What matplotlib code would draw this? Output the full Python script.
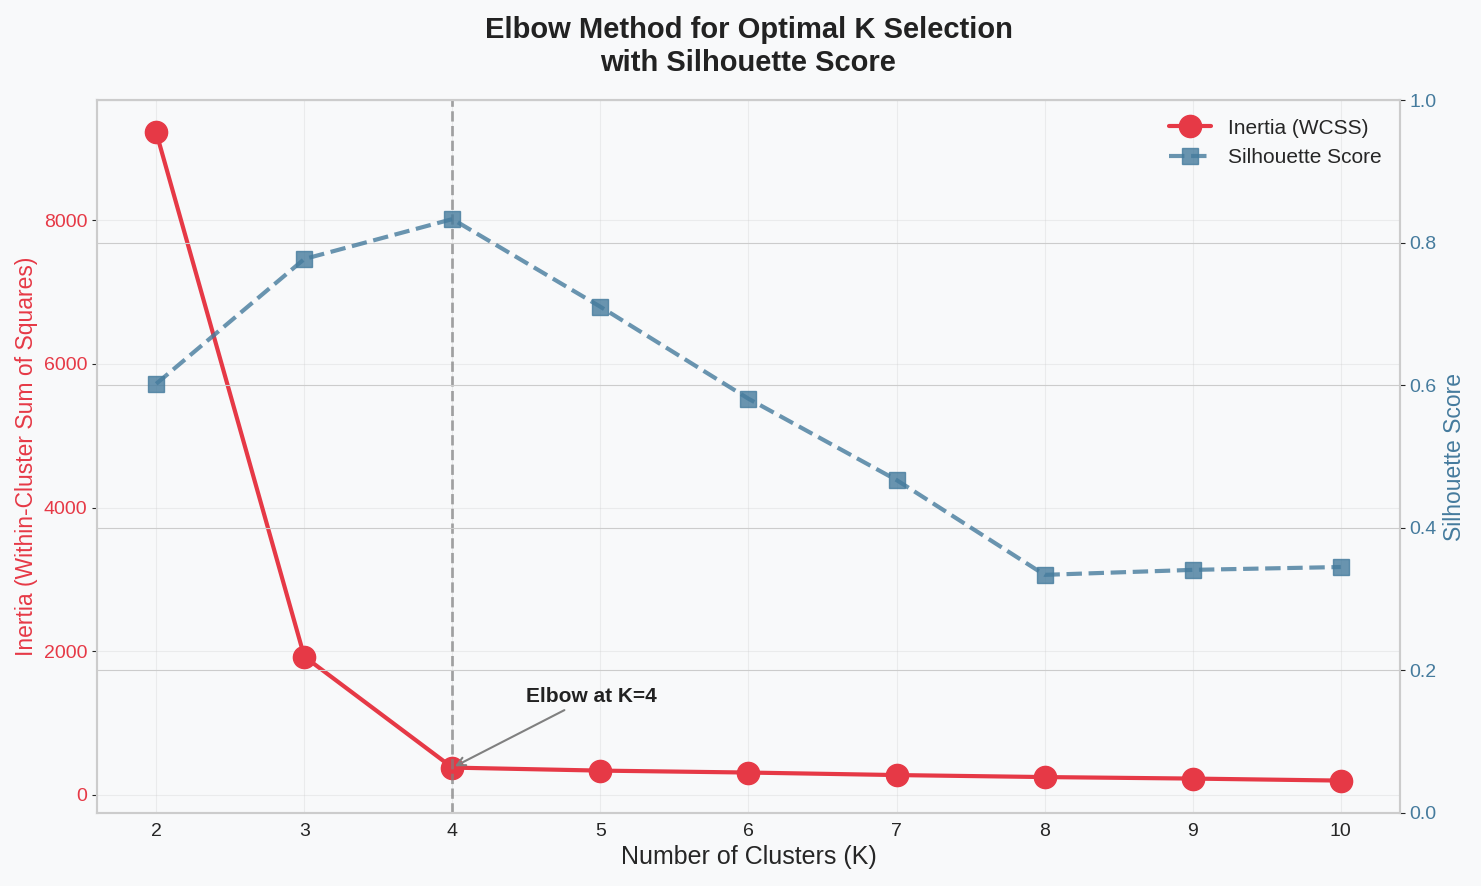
import matplotlib.pyplot as plt
import seaborn as sns

sns.set_style("whitegrid")
plt.rcParams['font.family'] = ['Liberation Sans', 'DejaVu Sans']

k_values = [2, 3, 4, 5, 6, 7, 8, 9, 10]
inertia = [9226, 1923, 376, 334, 307, 272, 244, 223, 195]
silhouette = [0.602, 0.777, 0.833, 0.710, 0.581, 0.467, 0.334, 0.341, 0.345]
elbow_k = 4

red = '#E63946'
blue = '#457B9D'
bg = '#F8F9FA'

fig, ax1 = plt.subplots(figsize=(14.81, 8.86), dpi=100)
fig.patch.set_facecolor(bg)
ax1.set_facecolor(bg)

l1, = ax1.plot(k_values, inertia, '-o', color=red, lw=3, markersize=16,
               label='Inertia (WCSS)')
ax1.set_xlabel('Number of Clusters (K)', fontsize=18)
ax1.set_ylabel('Inertia (Within-Cluster Sum of Squares)', fontsize=16.5, color=red)
ax1.tick_params(axis='y', labelcolor=red, labelsize=14)
ax1.tick_params(axis='x', labelsize=14)
ax1.grid(True, alpha=0.3)

ax1.axvline(elbow_k, color='gray', ls='--', lw=2, alpha=0.7)
ax1.annotate('Elbow at K=4', xy=(elbow_k, inertia[elbow_k - 2]),
             xytext=(elbow_k + 0.5, inertia[elbow_k - 2] + 920),
             fontsize=15, fontweight='bold', color='#222222',
             arrowprops=dict(arrowstyle='->', color='gray', lw=1.5))

ax2 = ax1.twinx()
l2, = ax2.plot(k_values, silhouette, '--s', color=blue, lw=3, markersize=12,
               alpha=0.8, label='Silhouette Score')
ax2.set_ylabel('Silhouette Score', fontsize=16.5, color=blue)
ax2.tick_params(axis='y', labelcolor=blue, labelsize=14)
ax2.set_ylim(0, 1)

for ax in (ax1, ax2):
    for s in ax.spines.values():
        s.set_color('#CCCCCC')
        s.set_linewidth(1.5)

ax1.legend([l1, l2], [l1.get_label(), l2.get_label()], loc='upper right',
           fontsize=15, frameon=False)

ax1.set_title('Elbow Method for Optimal K Selection\nwith Silhouette Score',
              fontsize=21, fontweight='bold', pad=21, color='#222222')

plt.subplots_adjust(left=0.0655, right=0.9453, top=0.8871, bottom=0.0824)
plt.savefig('out.png', facecolor=bg)
